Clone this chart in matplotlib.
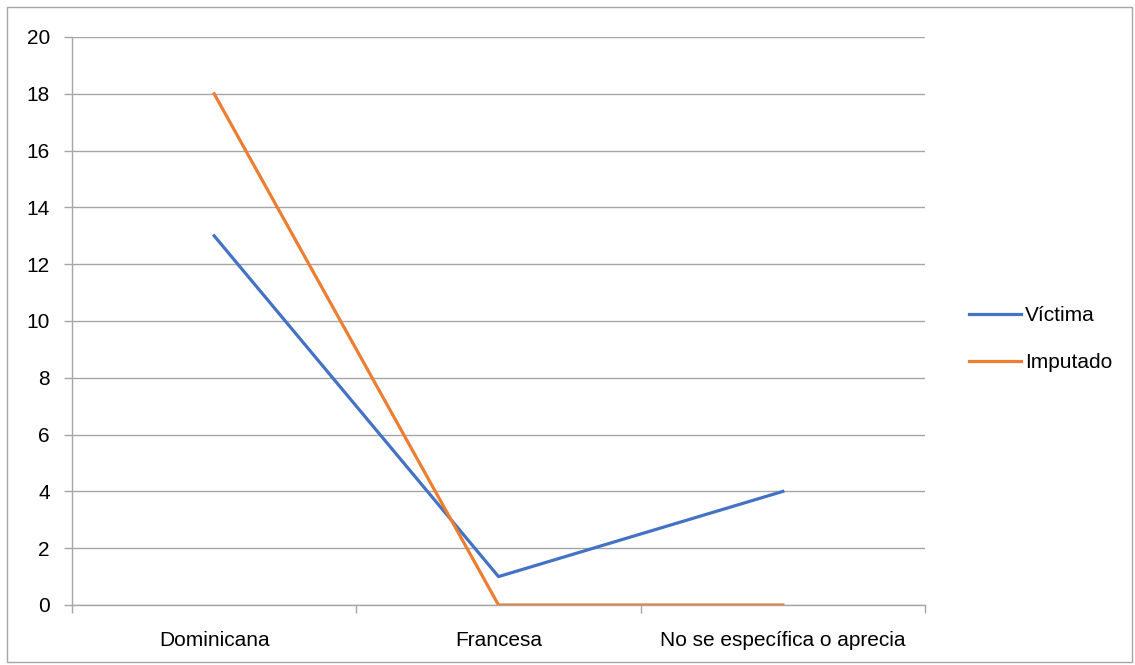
import matplotlib
matplotlib.use("Agg")
import matplotlib.pyplot as plt
from matplotlib.patches import Rectangle

plt.rcParams['font.family'] = ['Liberation Sans Narrow', 'Liberation Sans', 'DejaVu Sans']

categorias = ["Dominicana", "Francesa", "No se específica o aprecia"]
victima = [13, 1, 4]
imputado = [18, 0, 0]

gris = "#A6A6A6"

fig = plt.figure(figsize=(11.35, 6.65), dpi=100)
ax = fig.add_axes([72/1135, 1-605/665, (925-72)/1135, (605-37)/665])

x = list(range(len(categorias)))
ax.plot(x, victima, color="#4472C4", lw=2.3, label="Víctima", zorder=3)
ax.plot(x, imputado, color="#ED7D31", lw=2.3, label="Imputado", zorder=3)

ax.set_xlim(-0.5, len(categorias) - 0.5)
ax.set_ylim(0, 20)
ax.set_yticks(range(0, 21, 2))
ax.yaxis.grid(True, color=gris, lw=1)
ax.set_axisbelow(True)

ax.set_xticks(x)
ax.set_xticklabels(categorias, fontsize=15)
ax.set_xticks([i - 0.5 for i in range(len(categorias) + 1)], minor=True)
ax.tick_params(axis="x", which="major", length=0, pad=19)
ax.tick_params(axis="x", which="minor", length=6, color=gris, width=1)
ax.tick_params(axis="y", length=6, color=gris, width=1, labelsize=15, pad=10)

for s in ["top", "right"]:
    ax.spines[s].set_visible(False)
for s in ["left", "bottom"]:
    ax.spines[s].set_color(gris)
    ax.spines[s].set_linewidth(1)

fig.legend(loc="center left", bbox_to_anchor=(950/1135, 1-339/665), frameon=False,
           fontsize=15, handlelength=2.5, handletextpad=0.2, labelspacing=1.35)

fig.patches.append(Rectangle((7/1135, 3/665), 1 - 10/1135, 1 - 10/665,
                             transform=fig.transFigure, fill=False, edgecolor=gris, lw=1))

fig.savefig("out.png", dpi=100)
